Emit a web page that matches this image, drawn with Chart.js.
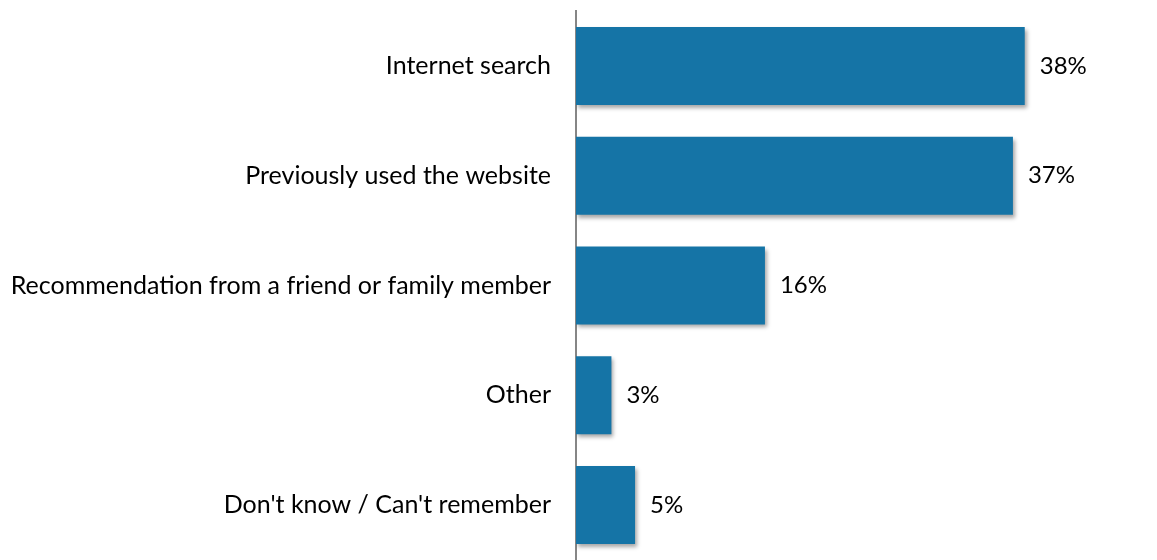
<!DOCTYPE html>
<html>
<head>
<meta charset="utf-8">
<script src="https://cdn.jsdelivr.net/npm/chart.js@4/dist/chart.umd.min.js"></script>
<style>
  html, body { margin: 0; padding: 0; background: #fff; }
  #wrap { width: 1157px; height: 560px; position: relative; }
</style>
</head>
<body>
<div id="wrap"><canvas id="chart"></canvas></div>
<script>
const categories = [
  'Internet search',
  'Previously used the website',
  'Recommendation from a friend or family member',
  'Other',
  "Don't know / Can't remember"
];
const shares = [38, 37, 16, 3, 5];
const valueLabels = ['38%', '37%', '16%', '3%', '5%'];

const FONT = 'Lato, "Open Sans", sans-serif';

// soft drop shadow under the bars
const barShadow = {
  id: 'barShadow',
  beforeDatasetDraw(chart) {
    const ctx = chart.ctx;
    ctx.save();
    ctx.shadowColor = 'rgba(0,0,0,0.35)';
    ctx.shadowBlur = 4;
    ctx.shadowOffsetX = 2;
    ctx.shadowOffsetY = 3;
  },
  afterDatasetDraw(chart) {
    chart.ctx.restore();
  }
};

// percentage text to the right of each bar
const valueText = {
  id: 'valueText',
  afterDatasetsDraw(chart) {
    const ctx = chart.ctx;
    const meta = chart.getDatasetMeta(0);
    ctx.save();
    ctx.font = '24px ' + FONT;
    ctx.fillStyle = '#000';
    ctx.textAlign = 'left';
    ctx.textBaseline = 'middle';
    meta.data.forEach((bar, i) => {
      ctx.fillText(valueLabels[i], bar.x + 15, bar.y);
    });
    ctx.restore();
  }
};

new Chart(document.getElementById('chart'), {
  type: 'bar',
  data: {
    labels: categories,
    datasets: [{
      data: shares,
      backgroundColor: '#1574A6',
      borderWidth: 0,
      barPercentage: 0.71,
      categoryPercentage: 1.0
    }]
  },
  options: {
    indexAxis: 'y',
    responsive: true,
    maintainAspectRatio: false,
    animation: false,
    layout: { padding: { top: 11, right: 0, bottom: 0, left: -5 } },
    plugins: {
      legend: { display: false },
      tooltip: { enabled: false }
    },
    scales: {
      x: {
        display: false,
        min: 0,
        max: 49.2
      },
      y: {
        grid: { display: false, drawTicks: false },
        border: { display: true, color: '#868686', width: 2 },
        ticks: {
          color: '#000',
          padding: 25,
          font: { family: FONT, size: 25 }
        },
        afterFit(scale) {
          // let the axis run the full height
          scale.paddingTop = 0;
          scale.paddingBottom = 0;
        }
      }
    }
  },
  plugins: [barShadow, valueText]
});
</script>
</body>
</html>
